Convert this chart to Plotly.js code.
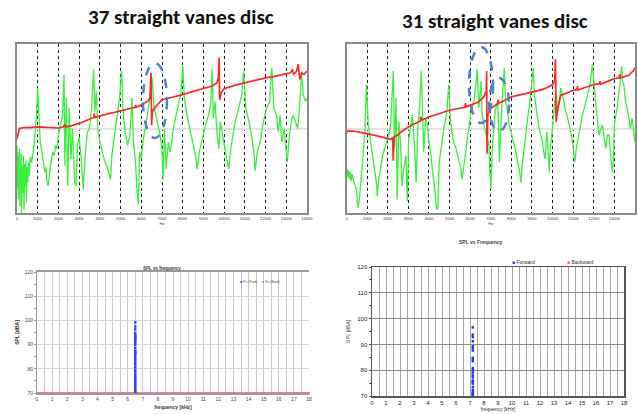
<!DOCTYPE html>
<html>
<head>
<meta charset="utf-8">
<script src="https://cdn.plot.ly/plotly-3.0.1.min.js"></script>
<style>
  html, body { margin: 0; padding: 0; background: #ffffff; }
  #chart { width: 638px; height: 414px; }
</style>
</head>
<body>
<div id="chart"></div>
<script>
// ---------- data ----------
const hzTickVals = [0,1,2,3,4,5,6,7,8,9,10,11,12,13,14];
const hzTickText = ['0','1000','2000','3000','4000','5000','6000','7000','8000','9000','10000','11000','12000','13000','14000'];

// Top-left (37 vanes): green response, frequency in kHz, level in relative units (0-100)
const tlGreenFreq = [0.00,0.02,0.04,0.06,0.08,0.10,0.12,0.14,0.16,0.18,0.20,0.22,0.25,0.28,0.31,0.34,0.37,0.40,0.43,0.46,0.49,0.52,0.56,0.60,0.64,0.70,0.78,0.86,0.94,1.00,1.05,1.12,1.20,1.28,1.35,1.40,1.44,1.50,1.55,1.60,1.66,1.72,1.80,1.86,1.93,2.00,2.10,2.20,2.27,2.31,2.38,2.45,2.52,2.60,2.68,2.78,2.85,2.92,3.00,3.10,3.20,3.30,3.40,3.50,3.60,3.70,3.76,3.83,3.90,4.00,4.12,4.25,4.38,4.46,4.52,4.58,4.70,4.85,4.95,5.05,5.12,5.22,5.34,5.45,5.55,5.62,5.72,5.80,5.86,5.92,6.00,6.10,6.25,6.40,6.52,6.62,6.75,6.88,7.00,7.05,7.12,7.20,7.30,7.40,7.55,7.75,7.92,8.00,8.08,8.20,8.35,8.50,8.62,8.70,8.80,8.95,9.10,9.25,9.35,9.42,9.48,9.56,9.65,9.74,9.82,9.92,10.05,10.15,10.22,10.32,10.50,10.70,10.85,10.94,11.05,11.20,11.35,11.45,11.50,11.60,11.74,11.90,12.05,12.20,12.30,12.40,12.52,12.62,12.70,12.78,12.90,13.00,13.05,13.15,13.30,13.45,13.55,13.65,13.74,13.82,13.92,14.00];
const tlGreen = [40,15,36,8,33,20,38,4,30,14,35,0,28,12,34,2,29,16,31,6,27,18,30,22,33,30,36,45,58,74,55,42,36,30,24,27,19,16,22,28,32,36,34,40,38,46,52,58,82,28,68,16,62,32,50,18,16,40,45,32,14,36,48,50,62,85,60,72,50,42,36,30,26,22,20,34,46,60,68,84,60,48,40,46,68,42,30,12,5,36,32,44,54,67,80,62,54,48,38,20,50,26,42,36,50,62,72,87,68,58,50,42,34,26,36,44,52,58,64,85,56,66,48,38,54,46,38,30,26,38,52,62,70,84,62,54,44,34,25,36,42,54,62,66,86,62,58,48,58,42,50,36,30,46,58,54,50,64,82,70,66,68];

// Top-left red curve
const tlRedFreq = [0.00,0.05,0.12,0.30,0.60,1.00,1.50,2.00,2.25,2.30,2.35,2.60,3.00,3.40,3.70,3.73,3.76,4.00,4.50,5.00,5.50,5.70,5.73,5.76,6.00,6.30,6.42,6.47,6.50,6.53,6.70,7.00,7.50,8.00,8.50,9.00,9.40,9.65,9.72,9.76,9.78,9.85,10.00,10.50,11.00,11.50,12.00,12.50,13.00,13.20,13.30,13.35,13.50,13.58,13.65,13.75,13.85,14.00];
const tlRed = [44,46,50,50.5,50.5,51,50.5,50.3,51,52.5,51,51.5,53,55,56.5,59,56.5,57.5,59,60.5,62,62.5,64,62.5,64,66,68,83,52,60,63,67,68.5,70,72,73.6,75,77,80,92,67,71,73.6,75.5,77,78.5,80,81,82.4,83,85,82,84,88,79,83,82,84];

// Top-right (31 vanes): green response
const trGreenFreq = [0.00,0.03,0.06,0.09,0.12,0.15,0.19,0.23,0.27,0.31,0.36,0.43,0.50,0.56,0.62,0.69,0.77,0.88,0.97,1.05,1.15,1.25,1.35,1.45,1.49,1.56,1.65,1.75,1.85,1.94,2.05,2.14,2.27,2.33,2.40,2.46,2.54,2.62,2.70,2.78,2.88,2.95,3.02,3.12,3.20,3.30,3.38,3.46,3.55,3.63,3.70,3.75,3.84,3.92,4.00,4.08,4.18,4.27,4.37,4.43,4.50,4.56,4.64,4.72,4.82,4.88,4.96,5.04,5.12,5.20,5.32,5.45,5.55,5.61,5.69,5.77,5.85,5.93,6.02,6.10,6.18,6.26,6.34,6.42,6.47,6.53,6.58,6.63,6.74,6.82,6.90,6.95,7.01,7.09,7.16,7.21,7.28,7.34,7.42,7.48,7.53,7.66,7.72,7.79,7.90,8.06,8.14,8.22,8.30,8.38,8.47,8.52,8.60,8.70,8.79,8.88,8.95,9.06,9.12,9.19,9.27,9.35,9.43,9.51,9.57,9.63,9.68,9.73,9.79,9.84,9.90,9.95,10.02,10.08,10.16,10.22,10.27,10.34,10.40,10.48,10.60,10.73,10.85,10.97,11.03,11.08,11.15,11.21,11.33,11.45,11.58,11.70,11.82,11.93,12.02,12.10,12.18,12.26,12.34,12.42,12.50,12.58,12.66,12.74,12.82,12.90,12.96,13.00,13.07,13.14,13.20,13.27,13.35,13.40,13.46,13.54,13.62,13.70,13.78,13.86,13.92,13.97,14.00];
const trGreen = [28,22,26,21,25,20,24,19,23,20,18,16,12,3,8,17,30,46,76,54,44,36,28,18,10,20,26,34,38,42,46,52,84,38,68,8,54,42,16,26,34,7,44,52,58,40,18,50,64,84,50,36,56,52,42,36,24,16,2,3,30,36,44,50,56,62,76,56,48,42,38,32,26,20,28,34,42,52,58,62,66,74,85,62,72,78,58,54,48,44,42,26,14,42,54,60,64,67,30,48,62,86,66,62,52,44,40,36,30,26,18,28,36,48,56,64,72,86,70,62,56,50,46,42,36,32,40,48,36,24,40,44,54,62,72,64,60,68,74,70,62,56,50,42,36,30,38,42,50,58,64,70,76,88,74,62,54,46,50,52,44,38,46,46,34,24,34,52,58,62,70,76,87,78,76,66,62,56,50,56,48,44,42];

// Top-right red curve
const trRedFreq = [0.00,0.02,0.30,0.60,1.00,1.50,2.00,2.14,2.24,2.27,2.30,2.46,2.70,3.00,3.30,3.58,3.61,3.64,4.00,4.50,5.00,5.50,5.75,5.77,5.80,6.00,6.40,6.66,6.78,6.80,6.82,6.86,6.98,7.20,7.34,7.36,7.38,8.00,8.50,9.00,9.50,9.80,10.00,10.10,10.14,10.17,10.25,10.40,11.00,11.18,11.20,11.23,12.00,12.28,12.30,12.33,13.00,13.23,13.25,13.28,13.70,13.94,14.00];
const trRed = [47,48.5,48.5,48,47,45.6,44,43.6,44.5,31,45,46,48.4,50.9,52.8,54.5,57,54.8,56.8,58.8,60.8,62,62.5,65,62.8,63.7,65.7,68.7,72,84,35,58,61.8,63.5,64.7,67,64.8,68.7,70,71.6,73,74.6,76,78,91,54,62,69.6,72.6,73,75,72.8,76,76.6,78,76.2,79.5,80,82,80,81.5,84.4,86];

// Bottom-left: SPL vs frequency (37 vanes)
const blFwdFreq = [6.5,6.5,6.5,6.5,6.5,6.5,6.5,6.5,6.5,6.5,6.5,6.5,6.5,6.5,6.5,6.5,6.5,6.5,6.5,6.5,6.5,6.5,6.5,6.5,6.5,6.5,6.5,6.5,6.5,6.5,6.5,6.5,6.5,6.5,6.5,6.5,6.5,6.5];
const blFwdSPL = [99.2,97.5,96.3,94.8,94.0,93.5,93.1,92.7,92.2,91.5,90.8,89.9,88.6,87.4,87.0,86.5,86.1,85.2,84.3,83.5,82.6,81.8,80.7,79.6,78.9,78.0,77.2,76.5,75.8,75.1,74.2,73.5,72.9,72.1,71.4,70.8,70.3,70.0];
const blBwdFreq = [0,0.5,1,1.5,2,2.5,3,3.5,4,4.5,5,5.5,6,6.5,7,7.5,8,8.5,9,9.5,10,10.5,11,11.5,12,12.5,13,13.5,14,14.5,15,15.5,16,16.5,17,17.5,18];
const blBwdSPL = [70,70,70,70,70,70,70,70,70,70,70,70,70,70,70,70,70,70,70,70,70,70,70,70,70,70,70,70,70,70,70,70,70,70,70,70,70];

// Bottom-right: SPL vs Frequency (31 vanes)
const brFwdFreq = [7.2,7.2,7.2,7.2,7.2,7.2,7.2,7.2,7.2,7.2,7.2,7.2,7.2,7.2,7.2,7.2,7.2,7.2,7.2,7.2,7.2,7.2,7.2,7.2];
const brFwdSPL = [96.6,93.8,92.9,91.2,89.3,88.5,87.6,84.8,84.2,83.5,80.8,80.0,79.1,78.0,77.2,76.0,75.4,74.8,73.5,72.4,71.6,71.0,70.6,70.2];

const khzTicks = [0,1,2,3,4,5,6,7,8,9,10,11,12,13,14,15,16,17,18];
const splTicks = [70,80,90,100,110,120];

const blLegendNames = ['Fu (Fwd)', 'Fu (Bwd)'];
const brLegendNames = ['Forward', 'Backward'];

// ---------- layout helpers ----------
const W = 638, H = 414;
const px = v => v / W;
const py = v => 1 - v / H;

const green = '#39f03a';
const red = '#ff2626';
const fwdBlue = '#3340ff';
const bwdPink = '#ff55dd';

const traces = [
  {x: tlGreenFreq, y: tlGreen, xaxis: 'x', yaxis: 'y', mode: 'lines', line: {color: green, width: 1.3}, showlegend: false},
  {x: tlRedFreq, y: tlRed, xaxis: 'x', yaxis: 'y', mode: 'lines', line: {color: red, width: 1.7}, showlegend: false},
  {x: trGreenFreq, y: trGreen, xaxis: 'x2', yaxis: 'y2', mode: 'lines', line: {color: green, width: 1.3}, showlegend: false},
  {x: trRedFreq, y: trRed, xaxis: 'x2', yaxis: 'y2', mode: 'lines', line: {color: red, width: 1.7}, showlegend: false},
  {x: blBwdFreq, y: blBwdSPL, xaxis: 'x3', yaxis: 'y3', mode: 'lines+markers', name: blLegendNames[1],
   line: {color: '#ff4a4a', width: 1.5}, marker: {color: '#ff6a9a', size: 2, symbol: 'square'}, showlegend: false, cliponaxis: false},
  {x: blFwdFreq, y: blFwdSPL, xaxis: 'x3', yaxis: 'y3', mode: 'markers', name: blLegendNames[0],
   marker: {color: fwdBlue, size: 2.5, symbol: 'square'}, showlegend: false, cliponaxis: false},
  {x: brFwdFreq, y: brFwdSPL, xaxis: 'x4', yaxis: 'y4', mode: 'markers', name: brLegendNames[0],
   marker: {color: '#2a33ff', size: 2.5, symbol: 'square'}, showlegend: false, cliponaxis: false}
];

const topX = (dom) => ({
  domain: dom, range: [0, 14], tickvals: hzTickVals, ticktext: hzTickText,
  tickfont: {size: 4, color: '#334', family: 'Liberation Sans'}, ticks: '',
  showgrid: true, gridcolor: '#222', griddash: 'dot', gridwidth: 1,
  showline: true, mirror: true, linecolor: '#8a8a8a', linewidth: 2, zeroline: false,
  title: {text: 'Hz', font: {size: 4, color: '#334'}, standoff: 1}, fixedrange: true
});
const topY = (dom, anchor) => ({
  domain: dom, range: [0, 100], tickvals: [50], showticklabels: false, ticks: '',
  showgrid: true, gridcolor: '#e2e2e2', gridwidth: 2, zeroline: false,
  showline: true, mirror: true, linecolor: '#8a8a8a', linewidth: 2, anchor: anchor, fixedrange: true
});

const legendAnn = (name, color, x, y, size, textColor) => ({
  text: '<span style="color:' + color + '">■</span> ' + name,
  x: px(x), y: py(y), xref: 'paper', yref: 'paper', xanchor: 'left', yanchor: 'middle',
  showarrow: false, font: {size: size, color: textColor}
});

const titleFont = {size: 21, family: 'Carlito, Liberation Sans Narrow, Liberation Sans', color: '#111'};

const layout = {
  width: W, height: H,
  margin: {l: 0, r: 0, t: 0, b: 0},
  paper_bgcolor: '#ffffff', plot_bgcolor: '#ffffff',
  font: {family: 'Liberation Sans, Arial, sans-serif', color: '#222'},
  showlegend: false,
  xaxis: Object.assign(topX([px(17), px(307)]), {anchor: 'y'}),
  yaxis: topY([py(213), py(44)], 'x'),
  xaxis2: Object.assign(topX([px(346.5), px(635)]), {anchor: 'y2'}),
  yaxis2: topY([py(213), py(44)], 'x2'),
  xaxis3: {
    domain: [px(37), px(309)], range: [0, 18], tickvals: khzTicks, anchor: 'y3',
    tickfont: {size: 5, color: '#445'}, ticks: '', showgrid: true, gridcolor: '#c9c9c9', gridwidth: 1,
    minor: {dtick: 0.5, showgrid: true, gridcolor: '#c9c9c9', gridwidth: 1},
    showline: true, mirror: true, linecolor: '#9a9a9a', linewidth: 2, zeroline: false,
    title: {text: '<b>frequency [kHz]</b>', font: {size: 5, color: '#333'}, standoff: 4}
  },
  yaxis3: {
    domain: [py(393), py(272)], range: [70, 120], tickvals: splTicks, anchor: 'x3',
    tickfont: {size: 5, color: '#445'}, ticks: 'outside', ticklen: 2, tickcolor: '#999',
    minor: {dtick: 5, ticks: 'outside', ticklen: 2, tickcolor: '#999', showgrid: false},
    showgrid: true, gridcolor: '#d6d6d6', gridwidth: 1, zeroline: false,
    showline: true, linecolor: '#9a9a9a', linewidth: 1,
    title: {text: '<b>SPL [dBA]</b>', font: {size: 5, color: '#333'}, standoff: 4}
  },
  xaxis4: {
    domain: [px(372), px(624)], range: [0, 18], tickvals: khzTicks, anchor: 'y4',
    tickfont: {size: 6, color: '#222'}, ticks: '', showgrid: true, gridcolor: '#a8a8a8', gridwidth: 1,
    minor: {dtick: 0.5, showgrid: true, gridcolor: '#a8a8a8', gridwidth: 1},
    showline: true, mirror: true, linecolor: '#555', linewidth: 1.5, zeroline: false,
    title: {text: 'frequency [kHz]', font: {size: 5, color: '#333'}, standoff: 2}
  },
  yaxis4: {
    domain: [py(396), py(267)], range: [70, 120], tickvals: splTicks, anchor: 'x4',
    tickfont: {size: 6, color: '#222'}, ticks: 'outside', ticklen: 2, tickcolor: '#555',
    minor: {dtick: 5, ticks: 'outside', ticklen: 2, tickcolor: '#555', showgrid: false},
    showgrid: true, gridcolor: '#8a8a8a', gridwidth: 1, zeroline: false,
    showline: true, mirror: true, linecolor: '#555', linewidth: 1.5,
    title: {text: 'SPL [dBA]', font: {size: 5, color: '#333'}, standoff: 6}
  },
  annotations: [
    {text: '<b>37 straight vanes disc</b>', x: px(181), y: py(17), xref: 'paper', yref: 'paper',
     xanchor: 'center', yanchor: 'middle', showarrow: false, font: titleFont},
    {text: '<b>31 straight vanes disc</b>', x: px(495), y: py(21), xref: 'paper', yref: 'paper',
     xanchor: 'center', yanchor: 'middle', showarrow: false, font: titleFont},
    {text: '<b>SPL vs frequency</b>', x: px(162), y: py(268), xref: 'paper', yref: 'paper',
     xanchor: 'center', yanchor: 'middle', showarrow: false, font: {size: 4.5, color: '#333'}},
    {text: '<b>SPL vs Frequency</b>', x: px(480), y: py(242), xref: 'paper', yref: 'paper',
     xanchor: 'center', yanchor: 'middle', showarrow: false, font: {size: 5, color: '#444'}},
    legendAnn(blLegendNames[0], fwdBlue, 238, 282, 3.6, '#555'),
    legendAnn(blLegendNames[1], bwdPink, 260, 282, 3.6, '#555'),
    legendAnn(brLegendNames[0], fwdBlue, 510, 262, 5, '#333'),
    legendAnn(brLegendNames[1], bwdPink, 565, 262, 5, '#333')
  ],
  shapes: [
    {type: 'circle', xref: 'paper', yref: 'paper', x0: px(143), x1: px(167), y0: py(138), y1: py(63),
     line: {color: '#4a82cc', width: 2.5, dash: 'dash'}},
    {type: 'circle', xref: 'paper', yref: 'paper', x0: px(469), x1: px(493), y0: py(123), y1: py(47),
     line: {color: '#4a82cc', width: 2.5, dash: 'dash'}},
    {type: 'circle', xref: 'paper', yref: 'paper', x0: px(489), x1: px(509), y0: py(131), y1: py(78),
     line: {color: '#4a82cc', width: 2.5, dash: 'dash'}}
  ]
};

Plotly.newPlot('chart', traces, layout, {staticPlot: true, displayModeBar: false});
</script>
</body>
</html>
